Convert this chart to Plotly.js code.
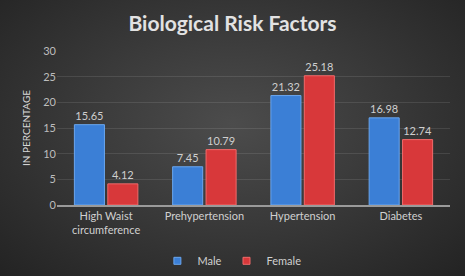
<!DOCTYPE html>
<html><head><meta charset="utf-8">
<script src="https://cdn.plot.ly/plotly-3.0.1.min.js"></script>
<style>
html,body{margin:0;padding:0;}
body{width:465px;height:276px;background:radial-gradient(ellipse at 50% 45%, #4c4c4c 0%, #3a3a3a 45%, #232323 100%);}
#chart{width:465px;height:276px;}
</style></head>
<body><div id="chart"></div>
<script>
const categories = ["High Waist<br>circumference", "Prehypertension", "Hypertension", "Diabetes"];
const seriesNames = ["Male", "Female"];
const maleValues = [15.65, 7.45, 21.32, 16.98];
const femaleValues = [4.12, 10.79, 25.18, 12.74];
const yTicks = [0, 5, 10, 15, 20, 25, 30];

const colors = ["#3b7fd6", "#d8383a"];
const edges = ["#6aa6ee", "#f06a6a"];
const labelFont = {family: "Lato, 'Open Sans', sans-serif", size: 11, color: "#cfcfcf"};
const values = [maleValues, femaleValues];
const traces = [];
values.forEach((vals, i) => {
  traces.push({type: "bar", name: seriesNames[i], x: categories, y: vals, showlegend: false,
   marker: {color: colors[i], line: {color: edges[i], width: 1}},
   text: vals.map(v => v.toFixed(2)), textposition: "outside", textfont: labelFont, cliponaxis: false});
});
values.forEach((vals, i) => {
  traces.push({type: "scatter", mode: "markers", name: seriesNames[i], x: [null], y: [null],
   marker: {symbol: "square", size: 7, color: colors[i], line: {color: edges[i], width: 1}}});
});
const layout = {
  width: 465, height: 276,
  paper_bgcolor: "rgba(0,0,0,0)", plot_bgcolor: "rgba(0,0,0,0)",
  margin: {l: 57, r: 15, t: 51, b: 71, autoexpand: false},
  title: {text: "<b>Biological Risk Factors</b>", x: 0.5, xanchor: "center", y: 0.915, yanchor: "middle",
          font: {family: "Lato, 'Open Sans', sans-serif", size: 21, color: "#e2e2e2"}},
  barmode: "group", bargap: 0.32, bargroupgap: 0.1,
  font: {family: "Lato, 'Open Sans', sans-serif", color: "#cfcfcf"},
  xaxis: {tickfont: {size: 11, color: "#d0d0d0"}, showline: true, linecolor: "#9a9a9a", linewidth: 1.5,
          ticks: "", automargin: false},
  yaxis: {range: [0, 30], tickvals: yTicks, tickfont: {size: 11, color: "#bdbdbd"},
          gridcolor: "rgba(255,255,255,0.1)", zeroline: false, ticks: "", ticklen: 0,
          title: {text: "IN PERCENTAGE", font: {size: 10, color: "#d8d8d8"}, standoff: 10}, automargin: false},
  showlegend: true,
  legend: {orientation: "h", x: 0.445, xanchor: "center", yref: "container", y: 0.055, yanchor: "middle",
           font: {size: 11, color: "#d0d0d0"}, itemwidth: 30, traceorder: "normal", tracegroupgap: 0}
};
Plotly.newPlot("chart", traces, layout, {displayModeBar: false, staticPlot: true});
</script></body></html>
